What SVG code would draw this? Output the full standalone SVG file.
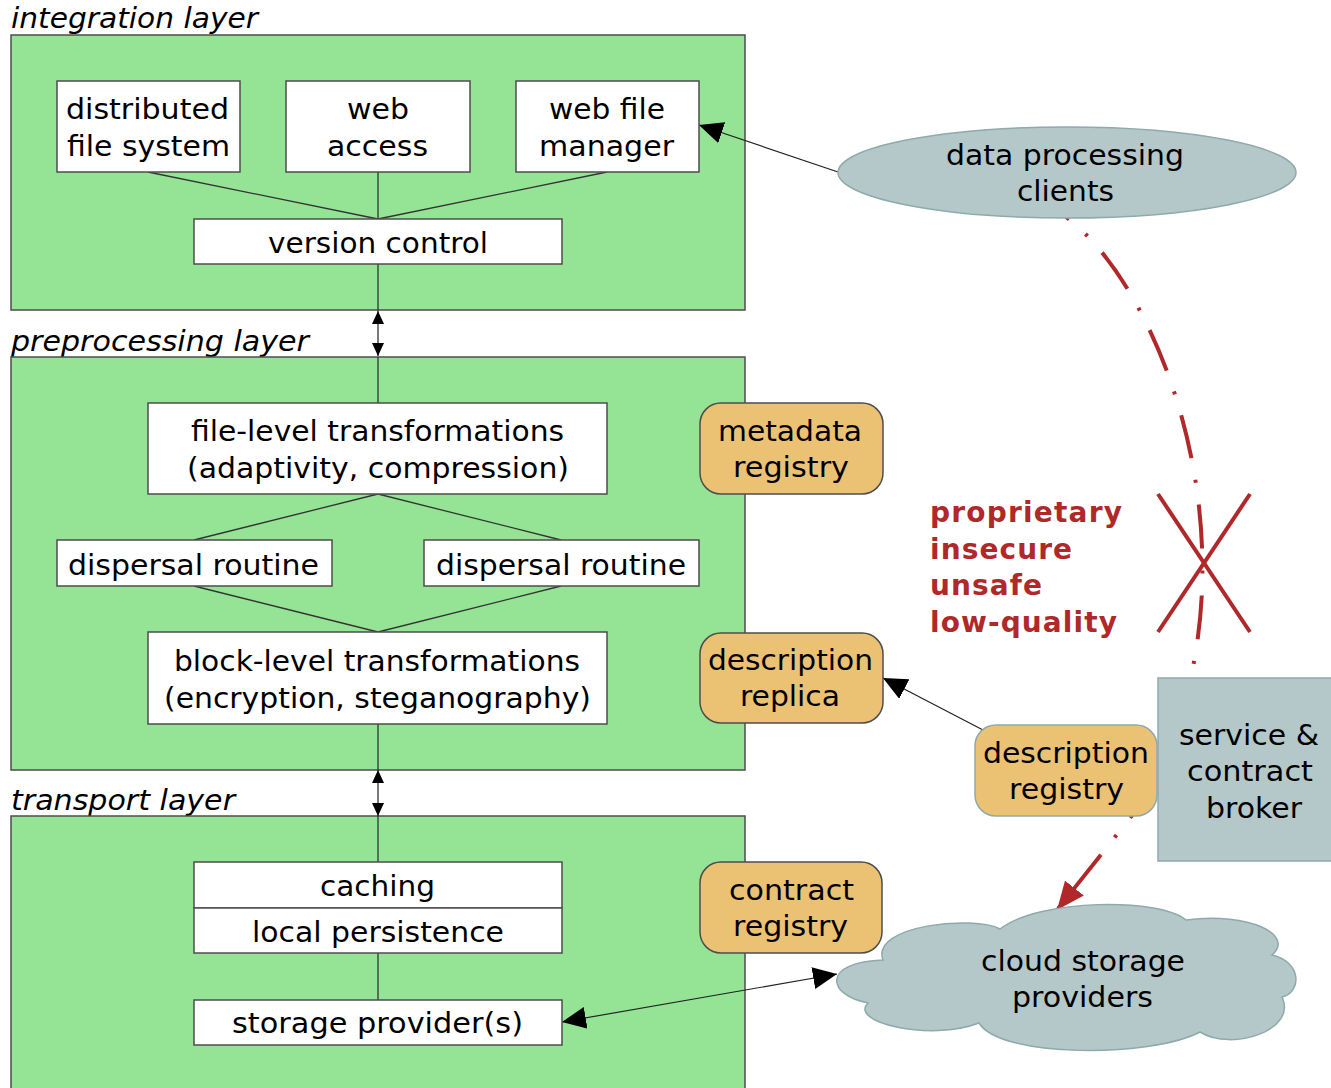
<svg xmlns="http://www.w3.org/2000/svg" width="1331" height="1088" viewBox="0 0 1331 1088">
  <style>
    text { font-family: "DejaVu Sans", "Liberation Sans", sans-serif; font-size: 28px; fill: #000; }
    .layer-label { font-style: italic; }
    .warn { font-weight: bold; fill: #b0282a; }
    .layer { fill: #95e395; stroke: #4d4d4d; stroke-width: 1.5; }
    .box { fill: #ffffff; stroke: #4d4d4d; stroke-width: 1.5; }
    .registry { fill: #ebc174; stroke: #4d4d4d; stroke-width: 1.5; }
    .registry-light { fill: #ebc174; stroke: #8eaaab; stroke-width: 1.5; }
    .actor { fill: #b4c7c9; stroke: #8eaaab; stroke-width: 1.5; }
    .link { fill: none; stroke: #333333; stroke-width: 1.3; }
    .thin { fill: none; stroke: #222222; stroke-width: 1.2; }
    .redline { fill: none; stroke: #b0282a; stroke-width: 4; }
    .dashdot { fill: none; stroke: #b0282a; stroke-width: 4; stroke-dasharray: 44 22 3 22; }
  </style>
  <defs>
    <marker id="head" markerUnits="userSpaceOnUse" viewBox="0 0 24 22" refX="24" refY="11" markerWidth="24" markerHeight="22" orient="auto-start-reverse">
      <path d="M0,0 L24,11 L0,22 z" fill="#000"/>
    </marker>
    <marker id="head-small" markerUnits="userSpaceOnUse" viewBox="0 0 13 12" refX="13" refY="6" markerWidth="13" markerHeight="12" orient="auto-start-reverse">
      <path d="M0,0 L13,6 L0,12 z" fill="#000"/>
    </marker>
    <marker id="head-red" markerUnits="userSpaceOnUse" viewBox="0 0 28 24" refX="28" refY="12" markerWidth="28" markerHeight="24" orient="auto">
      <path d="M0,0 L28,12 L0,24 z" fill="#b0282a"/>
    </marker>
  </defs>

  <!-- layer frames -->
  <g id="integration-layer">
    <text class="layer-label" x="11" y="28" textLength="247" lengthAdjust="spacingAndGlyphs">integration layer</text>
    <rect class="layer" x="11" y="35" width="734" height="275"/>
  </g>
  <g id="preprocessing-layer">
    <text class="layer-label" x="11" y="351" textLength="298" lengthAdjust="spacingAndGlyphs">preprocessing layer</text>
    <rect class="layer" x="11" y="357" width="734" height="413"/>
  </g>
  <g id="transport-layer">
    <text class="layer-label" x="11" y="810" textLength="224" lengthAdjust="spacingAndGlyphs">transport layer</text>
    <rect class="layer" x="11" y="816" width="734" height="290"/>
  </g>

  <!-- connectors -->
  <g id="connectors">
    <!-- integration layer tree -->
    <line class="link" x1="148" y1="172" x2="378" y2="219"/>
    <line class="link" x1="378" y1="172" x2="378" y2="219"/>
    <line class="link" x1="607" y1="172" x2="378" y2="219"/>
    <line class="link" x1="378" y1="264" x2="378" y2="311"/>
    <!-- between integration and preprocessing -->
    <line class="thin" x1="378" y1="311" x2="378" y2="356" marker-start="url(#head-small)" marker-end="url(#head-small)"/>
    <line class="link" x1="378" y1="357" x2="378" y2="403"/>
    <!-- preprocessing diamond -->
    <line class="link" x1="378" y1="494" x2="194" y2="540"/>
    <line class="link" x1="378" y1="494" x2="561" y2="540"/>
    <line class="link" x1="194" y1="586" x2="378" y2="632"/>
    <line class="link" x1="561" y1="586" x2="378" y2="632"/>
    <line class="link" x1="378" y1="724" x2="378" y2="770"/>
    <!-- between preprocessing and transport -->
    <line class="thin" x1="378" y1="770" x2="378" y2="816" marker-start="url(#head-small)" marker-end="url(#head-small)"/>
    <line class="link" x1="378" y1="816" x2="378" y2="862"/>
    <line class="link" x1="378" y1="953" x2="378" y2="1000"/>
    <!-- external links -->
    <line class="thin" x1="838" y1="172" x2="699" y2="125" marker-end="url(#head)"/>
    <line class="thin" x1="983" y1="730" x2="883" y2="678" marker-end="url(#head)"/>
    <line class="thin" x1="837" y1="974" x2="562" y2="1022" marker-start="url(#head)" marker-end="url(#head)"/>
    <!-- broken proprietary channel -->
    <path class="dashdot" stroke-dashoffset="40" d="M1066,217 C1150,280 1232,480 1192,672"/>
    <line class="redline" x1="1158" y1="494" x2="1250" y2="632"/>
    <line class="redline" x1="1250" y1="494" x2="1158" y2="632"/>
    <!-- broker to cloud -->
    <path class="dashdot" stroke-dashoffset="25" d="M1142,803 L1057,910" marker-end="url(#head-red)"/>
  </g>

  <!-- integration layer nodes -->
  <g id="distributed-file-system">
    <rect class="box" x="57" y="81" width="183" height="91"/>
    <text x="66" y="119" textLength="163" lengthAdjust="spacingAndGlyphs">distributed</text>
    <text x="67" y="156" textLength="163" lengthAdjust="spacingAndGlyphs">file system</text>
  </g>
  <g id="web-access">
    <rect class="box" x="286" y="81" width="184" height="91"/>
    <text x="347" y="119" textLength="62" lengthAdjust="spacingAndGlyphs">web</text>
    <text x="327" y="156" textLength="101" lengthAdjust="spacingAndGlyphs">access</text>
  </g>
  <g id="web-file-manager">
    <rect class="box" x="516" y="81" width="183" height="91"/>
    <text x="549" y="119" textLength="116" lengthAdjust="spacingAndGlyphs">web file</text>
    <text x="539" y="156" textLength="135" lengthAdjust="spacingAndGlyphs">manager</text>
  </g>
  <g id="version-control">
    <rect class="box" x="194" y="219" width="368" height="45"/>
    <text x="268" y="253" textLength="220" lengthAdjust="spacingAndGlyphs">version control</text>
  </g>

  <!-- preprocessing layer nodes -->
  <g id="file-level-transformations">
    <rect class="box" x="148" y="403" width="459" height="91"/>
    <text x="191" y="441" textLength="373" lengthAdjust="spacingAndGlyphs">file-level transformations</text>
    <text x="187" y="478" textLength="382" lengthAdjust="spacingAndGlyphs">(adaptivity, compression)</text>
  </g>
  <g id="dispersal-routine-left">
    <rect class="box" x="57" y="540" width="275" height="46"/>
    <text x="68" y="575" textLength="251" lengthAdjust="spacingAndGlyphs">dispersal routine</text>
  </g>
  <g id="dispersal-routine-right">
    <rect class="box" x="424" y="540" width="275" height="46"/>
    <text x="436" y="575" textLength="250" lengthAdjust="spacingAndGlyphs">dispersal routine</text>
  </g>
  <g id="block-level-transformations">
    <rect class="box" x="148" y="632" width="459" height="92"/>
    <text x="174" y="671" textLength="406" lengthAdjust="spacingAndGlyphs">block-level transformations</text>
    <text x="164" y="708" textLength="427" lengthAdjust="spacingAndGlyphs">(encryption, steganography)</text>
  </g>

  <!-- transport layer nodes -->
  <g id="caching">
    <rect class="box" x="194" y="862" width="368" height="46"/>
    <text x="320" y="896" textLength="115" lengthAdjust="spacingAndGlyphs">caching</text>
  </g>
  <g id="local-persistence">
    <rect class="box" x="194" y="908" width="368" height="45"/>
    <text x="252" y="942" textLength="252" lengthAdjust="spacingAndGlyphs">local persistence</text>
  </g>
  <g id="storage-providers">
    <rect class="box" x="194" y="1000" width="368" height="45"/>
    <text x="232" y="1033" textLength="291" lengthAdjust="spacingAndGlyphs">storage provider(s)</text>
  </g>

  <!-- registries -->
  <g id="metadata-registry">
    <rect class="registry" x="700" y="403" width="183" height="91" rx="21"/>
    <text x="718" y="441" textLength="144" lengthAdjust="spacingAndGlyphs">metadata</text>
    <text x="733" y="477" textLength="116" lengthAdjust="spacingAndGlyphs">registry</text>
  </g>
  <g id="description-replica">
    <rect class="registry" x="700" y="633" width="183" height="90" rx="21"/>
    <text x="708" y="670" textLength="165" lengthAdjust="spacingAndGlyphs">description</text>
    <text x="740" y="706" textLength="100" lengthAdjust="spacingAndGlyphs">replica</text>
  </g>
  <g id="contract-registry">
    <rect class="registry" x="700" y="862" width="182" height="91" rx="21"/>
    <text x="729" y="900" textLength="125" lengthAdjust="spacingAndGlyphs">contract</text>
    <text x="733" y="936" textLength="115" lengthAdjust="spacingAndGlyphs">registry</text>
  </g>

  <!-- external actors -->
  <g id="data-processing-clients">
    <ellipse class="actor" cx="1067" cy="172.5" rx="229" ry="45.5"/>
    <text x="946" y="165" textLength="238" lengthAdjust="spacingAndGlyphs">data processing</text>
    <text x="1017" y="201" textLength="97" lengthAdjust="spacingAndGlyphs">clients</text>
  </g>
  <g id="service-contract-broker">
    <rect class="actor" x="1158" y="678" width="180" height="183"/>
    <text x="1179" y="745" textLength="140" lengthAdjust="spacingAndGlyphs">service &amp;</text>
    <text x="1187" y="781" textLength="126" lengthAdjust="spacingAndGlyphs">contract</text>
    <text x="1206" y="818" textLength="96" lengthAdjust="spacingAndGlyphs">broker</text>
  </g>
  <g id="description-registry">
    <rect class="registry-light" x="975" y="725" width="182" height="91" rx="21"/>
    <text x="983" y="763" textLength="166" lengthAdjust="spacingAndGlyphs">description</text>
    <text x="1009" y="799" textLength="115" lengthAdjust="spacingAndGlyphs">registry</text>
  </g>
  <g id="cloud-storage-providers">
    <path class="actor" d="M883,960 C870,925 975,915 1000,929 C1040,898 1160,898 1186,920 C1250,912 1295,935 1272,955 C1302,962 1302,992 1282,997 C1298,1030 1232,1052 1200,1032 C1150,1058 1000,1058 979,1023 C930,1042 848,1022 868,1003 C826,995 822,962 883,960 z"/>
    <text x="981" y="971" textLength="204" lengthAdjust="spacingAndGlyphs">cloud storage</text>
    <text x="1012" y="1007" textLength="141" lengthAdjust="spacingAndGlyphs">providers</text>
  </g>

  <!-- channel warning -->
  <g id="channel-warning">
    <text class="warn" x="930" y="522" textLength="192" lengthAdjust="spacing">proprietary</text>
    <text class="warn" x="930" y="559" textLength="142" lengthAdjust="spacing">insecure</text>
    <text class="warn" x="930" y="595" textLength="112" lengthAdjust="spacing">unsafe</text>
    <text class="warn" x="930" y="632" textLength="187" lengthAdjust="spacing">low-quality</text>
  </g>
</svg>
